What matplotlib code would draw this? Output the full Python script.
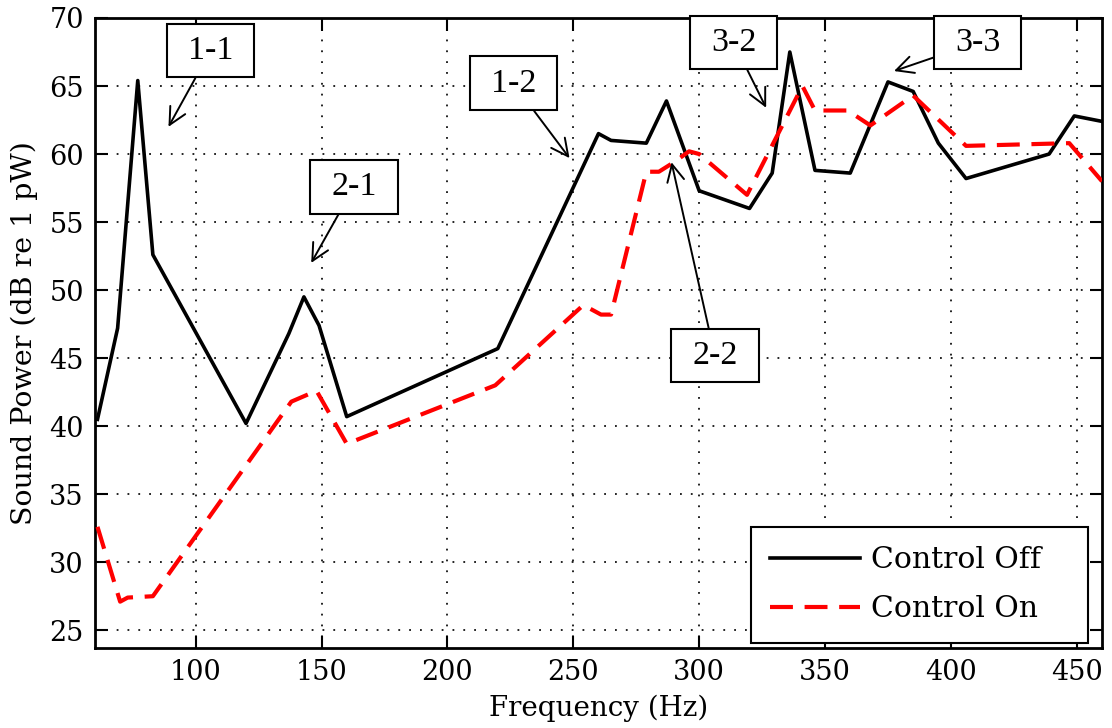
import matplotlib
matplotlib.use("Agg")
import matplotlib.pyplot as plt
from matplotlib.path import Path

# Sound power spectra, control off / on
off_freq = [61, 69, 77, 83, 120, 137, 143, 149, 160, 220, 260, 265, 279, 287,
            300, 320, 329, 336, 346, 360, 375, 385, 395, 406, 439, 449, 460]
off_db = [40.5, 47.2, 65.4, 52.6, 40.2, 46.8, 49.5, 47.4, 40.7, 45.7, 61.5, 61.0,
          60.8, 63.9, 57.3, 56.0, 58.6, 67.5, 58.8, 58.6, 65.3, 64.6, 60.8, 58.2,
          60.0, 62.8, 62.4]

on_freq = [61, 70, 73, 83, 138, 148, 160, 219, 254, 261, 265, 279, 284, 290,
           296, 300, 319, 341, 346, 359, 368, 385, 406, 447, 460]
on_db = [32.6, 27.1, 27.4, 27.5, 41.8, 42.6, 38.7, 43.0, 48.9, 48.2, 48.2, 58.7,
         58.7, 59.4, 60.2, 60.0, 57.0, 65.0, 63.2, 63.2, 62.1, 64.3, 60.6, 60.8, 58.0]

x_ticks = [100, 150, 200, 250, 300, 350, 400, 450]
y_ticks = [25, 30, 35, 40, 45, 50, 55, 60, 65, 70]

# Mode labels: (text, arrow tip, box centre)
mode_labels = ["1-1", "2-1", "1-2", "2-2", "3-2", "3-3"]
mode_tips = [(89.2, 62.0), (145.9, 52.0), (248.5, 59.7), (289.0, 59.4), (326.6, 63.4), (377.4, 66.1)]
mode_boxes = [(105.9, 67.6), (162.9, 57.6), (226.2, 65.2), (306.2, 45.2), (313.7, 68.2), (410.6, 68.2)]

serif = "DejaVu Serif"

fig = plt.figure(figsize=(11.12, 7.28), dpi=100)
ax = fig.add_axes([0.0854, 0.110, 0.9056, 0.8653])

ax.plot(off_freq, off_db, color="black", lw=2.6, label="Control Off", zorder=3)
ax.plot(on_freq, on_db, color="red", lw=3.0, ls=(0, (5.5, 2.8)), label="Control On", zorder=3)

ax.set_xlim(60, 460)
ax.set_ylim(23.7, 70)
ax.set_xticks(x_ticks)
ax.set_yticks(y_ticks)
ax.tick_params(direction="in", length=9, width=1.5, top=True, right=True,
               labelsize=19.5, pad=8)
for lab in ax.get_xticklabels() + ax.get_yticklabels():
    lab.set_fontfamily(serif)
for sp in ax.spines.values():
    sp.set_linewidth(2.0)

ax.grid(True, color="#111111", ls=(0, (1, 5)), lw=1.3, zorder=1)

ax.set_xlabel("Frequency (Hz)", fontfamily=serif, fontsize=20, labelpad=6)
ax.set_ylabel("Sound Power (dB re 1 pW)", fontfamily=serif, fontsize=20.5, labelpad=8)


def wide_box(x0, y0, width, height, mutation_size):
    px = 0.62 * mutation_size
    py = 0.34 * mutation_size
    x0, y0 = x0 - px, y0 - py
    x1, y1 = x0 + width + 2 * px, y0 + height + 2 * py
    return Path([(x0, y0), (x1, y0), (x1, y1), (x0, y1), (x0, y0)],
                closed=True)


for text, tip, box in zip(mode_labels, mode_tips, mode_boxes):
    ax.annotate(text, xy=tip, xytext=box, ha="center", va="center",
                fontsize=24.5, fontfamily="Liberation Serif",
                bbox=dict(boxstyle=wide_box, fc="white", ec="black", lw=1.5),
                arrowprops=dict(arrowstyle="->,head_length=0.5,head_width=0.25",
                                color="black", lw=1.4, shrinkA=0, shrinkB=0),
                zorder=5)

leg = ax.legend(loc="lower left", bbox_to_anchor=(0.6514, 0.008, 0.3347, 0.19),
                mode="expand", prop={"family": serif, "size": 21.5},
                handlelength=3.0, fancybox=False, framealpha=1, edgecolor="black",
                borderpad=0.65, labelspacing=0.72, handletextpad=0.38,
                borderaxespad=0)
leg.get_frame().set_linewidth(1.5)

fig.savefig("out.png", dpi=100)
